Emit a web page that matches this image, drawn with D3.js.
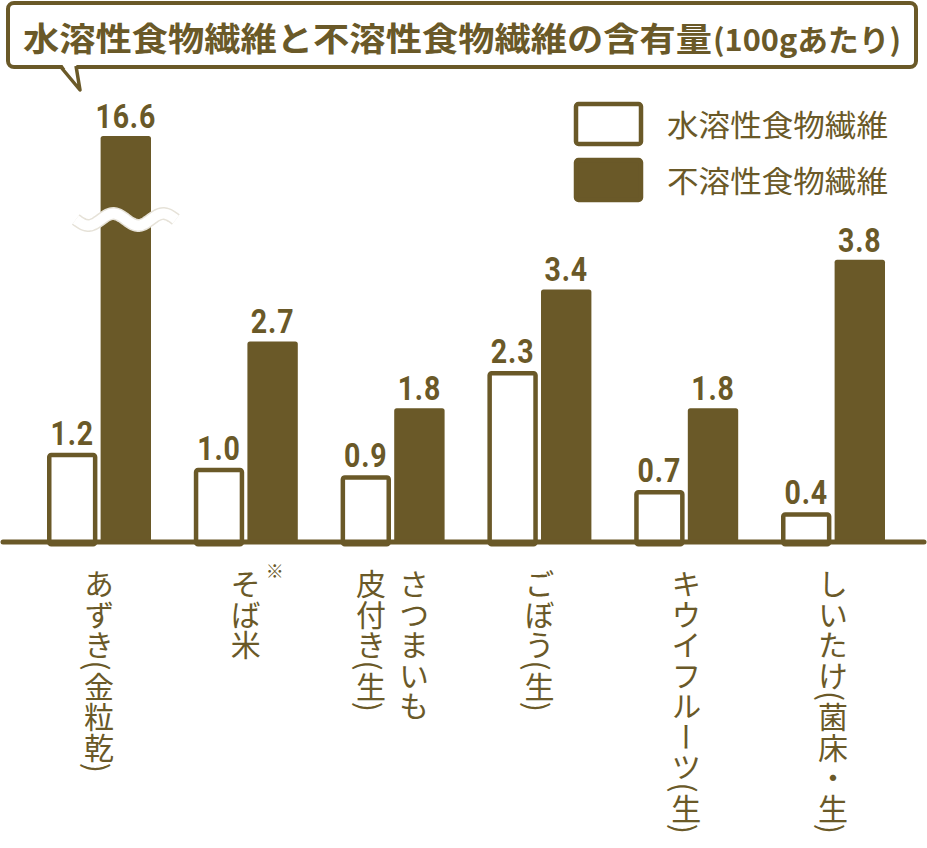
<!DOCTYPE html>
<html lang="ja">
<head>
<meta charset="utf-8">
<script src="https://cdn.jsdelivr.net/npm/d3@7"></script>
<style>
  html, body { margin: 0; padding: 0; background: #fff; }
  svg { display: block; }
</style>
</head>
<body>
<div id="chart"></div>
<script>
// ---- data ----
const titleMain = "水溶性食物繊維と不溶性食物繊維の含有量";
const titleSub = "(100gあたり)";
const seriesNames = ["水溶性食物繊維", "不溶性食物繊維"];
const categories = ["あずき(金粒乾)", "そば米", "さつまいも皮付き(生)", "ごぼう(生)", "キウイフルーツ(生)", "しいたけ(菌床・生)"];
const categoryLines = [["あずき(金粒乾)"], ["そば米"], ["さつまいも", "皮付き(生)"], ["ごぼう(生)"], ["キウイフルーツ(生)"], ["しいたけ(菌床・生)"]];
const categoryNotes = ["", "※", "", "", "", ""];
const soluble = [1.2, 1.0, 0.9, 2.3, 0.7, 0.4];
const insoluble = [16.6, 2.7, 1.8, 3.4, 1.8, 3.8];
const breakValue = 4.3;

// ---- setup ----
const W = 927, H = 848;
const brown = "#6a5928";
const svg = d3.select("#chart").append("svg").attr("width", W).attr("height", H);

const x0 = d3.scaleBand().domain(categories).range([25.6, 906.4]).paddingInner(0.2916).paddingOuter(0.1458);
const x1 = d3.scaleBand().domain(seriesNames).range([0, x0.bandwidth()]).paddingInner(0.06);
const y = d3.scaleLinear().domain([0, breakValue, 16.6]).range([542, 542 - breakValue * 74.3, 136]);

const rows = categories.map((c, i) => ({ cat: c, i, vals: [soluble[i], insoluble[i]] }));

// ---- title bubble ----
const title = svg.append("g");
title.append("rect").attr("x", 8).attr("y", 3).attr("width", 908).attr("height", 64)
  .attr("rx", 6).attr("fill", "#fff").attr("stroke", brown).attr("stroke-width", 4);
title.append("path").attr("d", "M61,63 L80,90 L76,63 Z").attr("fill", "#fff");
title.append("path").attr("d", "M60,66 L80,90 L76,66").attr("fill", "none")
  .attr("stroke", brown).attr("stroke-width", 3.5).attr("stroke-linejoin", "round");
title.append("text").attr("x", 23).attr("y", 51)
  .attr("font-family", "'Noto Sans CJK JP', sans-serif").attr("font-weight", 700)
  .attr("font-size", 33).attr("fill", brown)
  .attr("textLength", 689).attr("lengthAdjust", "spacingAndGlyphs").text(titleMain);
title.append("text").attr("x", 713).attr("y", 51)
  .attr("font-family", "'Noto Sans CJK JP', sans-serif").attr("font-weight", 700)
  .attr("font-size", 30).attr("fill", brown)
  .attr("textLength", 188).attr("lengthAdjust", "spacingAndGlyphs").text(titleSub);

// ---- legend ----
const legend = svg.append("g");
seriesNames.forEach((s, i) => {
  const ly = 102 + i * 56;
  legend.append("rect").attr("x", 576).attr("y", ly + 2).attr("width", 65).attr("height", 40)
    .attr("rx", 2.5)
    .attr("fill", i === 0 ? "#fff" : brown).attr("stroke", brown).attr("stroke-width", 4.5);
  legend.append("text").attr("x", 667).attr("y", ly + 34)
    .attr("font-family", "'Noto Sans CJK JP', sans-serif").attr("font-weight", 400)
    .attr("font-size", 30).attr("fill", brown)
    .attr("textLength", 221).attr("lengthAdjust", "spacingAndGlyphs").text(s);
});

// ---- bars ----
const groups = svg.append("g").selectAll("g").data(rows).join("g")
  .attr("transform", d => `translate(${x0(d.cat)},0)`);

groups.each(function (d) {
  const g = d3.select(this);
  d.vals.forEach((v, j) => {
    const s = seriesNames[j];
    const bx = x1(s), bw = x1.bandwidth();
    if (j === 0) {
      g.append("rect").attr("x", bx + 2.25).attr("y", y(v) + 2.25)
        .attr("width", bw - 4.5).attr("height", y(0) - y(v))
        .attr("rx", 2).attr("fill", "#fff").attr("stroke", brown).attr("stroke-width", 4.5);
    } else {
      g.append("rect").attr("x", bx).attr("y", y(v))
        .attr("width", bw).attr("height", y(0) - y(v))
        .attr("rx", 2.5).attr("fill", brown);
    }
    // value label (condensed)
    g.append("g").attr("transform", `translate(${bx + bw / 2},${y(v) - 8}) scale(0.84,1)`)
      .append("text").attr("text-anchor", "middle")
      .attr("font-family", "Roboto, sans-serif").attr("font-weight", 700)
      .attr("font-size", 34).attr("fill", brown).attr("letter-spacing", 1)
      .text(d3.format(".1f")(v));
    // break mark
    if (v > breakValue) {
      const cx = bx + bw / 2;
      const yb = y(breakValue) - 3;
      const pts = d3.range(0, 101, 2).map(t => [cx - 50 + t, yb + 6 * Math.sin((t / 50) * 2 * Math.PI)]);
      const line = d3.line().curve(d3.curveBasis);
      g.append("path").attr("d", line(pts)).attr("fill", "none")
        .attr("stroke", "#e6e2d8").attr("stroke-width", 13);
      g.append("path").attr("d", line(pts)).attr("fill", "none")
        .attr("stroke", "#fff").attr("stroke-width", 10);
    }
  });
});

// ---- baseline axis ----
svg.append("line").attr("x1", 3).attr("x2", 924).attr("y1", y(0)).attr("y2", y(0))
  .attr("stroke", brown).attr("stroke-width", 5).attr("stroke-linecap", "round");

// ---- category labels (vertical) ----
const labels = svg.append("g");
rows.forEach(d => {
  const cx = x0(d.cat) + x0.bandwidth() / 2;
  const lines = categoryLines[d.i];
  const n = lines.length;
  lines.forEach((t, k) => {
    const lx = cx + ((n - 1) / 2 - k) * 43;
    labels.append("text").attr("x", lx).attr("y", 569)
      .style("writing-mode", "vertical-rl")
      .attr("font-family", "'Noto Sans CJK JP', sans-serif").attr("font-weight", 400)
      .attr("font-size", 30).attr("letter-spacing", 0.5).attr("fill", brown)
      .text(t);
  });
  if (categoryNotes[d.i]) {
    labels.append("text").attr("x", cx + 29).attr("y", 578).attr("text-anchor", "middle")
      .attr("font-family", "'Noto Sans CJK JP', sans-serif").attr("font-size", 18)
      .attr("fill", brown).text(categoryNotes[d.i]);
  }
});
</script>
</body>
</html>
